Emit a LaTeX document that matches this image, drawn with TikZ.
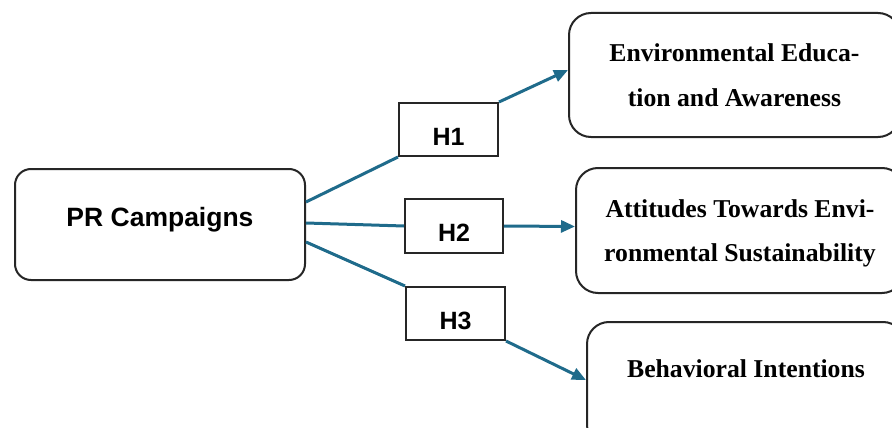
\documentclass[tikz,border=0pt]{standalone}
\usepackage{fontspec}
\setmainfont{Liberation Serif}
\newfontfamily\arialfont{Liberation Sans}
\usetikzlibrary{arrows.meta}
\definecolor{conncol}{RGB}{31,107,139}
\definecolor{edgecol}{RGB}{38,38,38}
\begin{document}
\begin{tikzpicture}[x=1pt,y=-1pt,
  prbox/.style={draw=edgecol,line width=2pt,rounded corners=16pt,inner sep=0pt,
    minimum width=290pt,minimum height=111pt,
    font=\arialfont\bfseries\fontsize{26.5}{30}\selectfont},
  hbox/.style={draw=edgecol,line width=2pt,inner sep=0pt,
    minimum width=99pt,minimum height=53pt,
    font=\arialfont\bfseries\fontsize{25}{28}\selectfont,
    text height=31pt,text depth=0pt},
  rbox/.style={draw=edgecol,line width=2pt,rounded corners=22pt,inner sep=0pt,
    align=center,font=\bfseries\fontsize{25.7}{44.5}\selectfont},
  conn/.style={draw=conncol,line width=3pt},
  arrowconn/.style={conn,-{Triangle[length=14pt,width=12pt]}}]
\useasboundingbox (0,0) rectangle (892,428);
\clip (0,0) rectangle (892,428);
\fill[white] (0,0) rectangle (892,428);

\node[prbox,text height=10pt,text depth=7pt] (pr) at (160,224.5) {PR Campaigns};

\node[hbox] (h1) at (448.5,129.5) {H1};
\node[hbox,minimum width=98pt,minimum height=54pt] (h2) at (454,226) {H2};
\node[hbox] (h3) at (455.5,313.5) {H3};

\node[rbox,minimum width=331pt,minimum height=124pt,text depth=0pt] (env) at (734.5,75)
  {Environmental Educa-\\tion and Awareness};
\node[rbox,minimum width=328pt,minimum height=125pt,text depth=0pt] (att) at (740,230.5)
  {Attitudes Towards Envi-\\ronmental Sustainability};
\node[rbox,minimum width=318pt,minimum height=125pt,text height=5pt,text depth=20pt] (beh) at (746,384.5)
  {Behavioral Intentions};

\draw[conn] ([yshift=22.5pt]pr.east) -- (h1.south west);
\draw[arrowconn] (h1.north east) -- ([yshift=5pt]env.west);
\draw[conn] ([yshift=1.5pt]pr.east) -- (h2.west);
\draw[arrowconn] (h2.east) -- ([yshift=4pt]att.west);
\draw[conn] ([yshift=-17.5pt]pr.east) -- (h3.north west);
\draw[arrowconn] (h3.south east) -- ([yshift=4.5pt]beh.west);
\end{tikzpicture}
\end{document}
